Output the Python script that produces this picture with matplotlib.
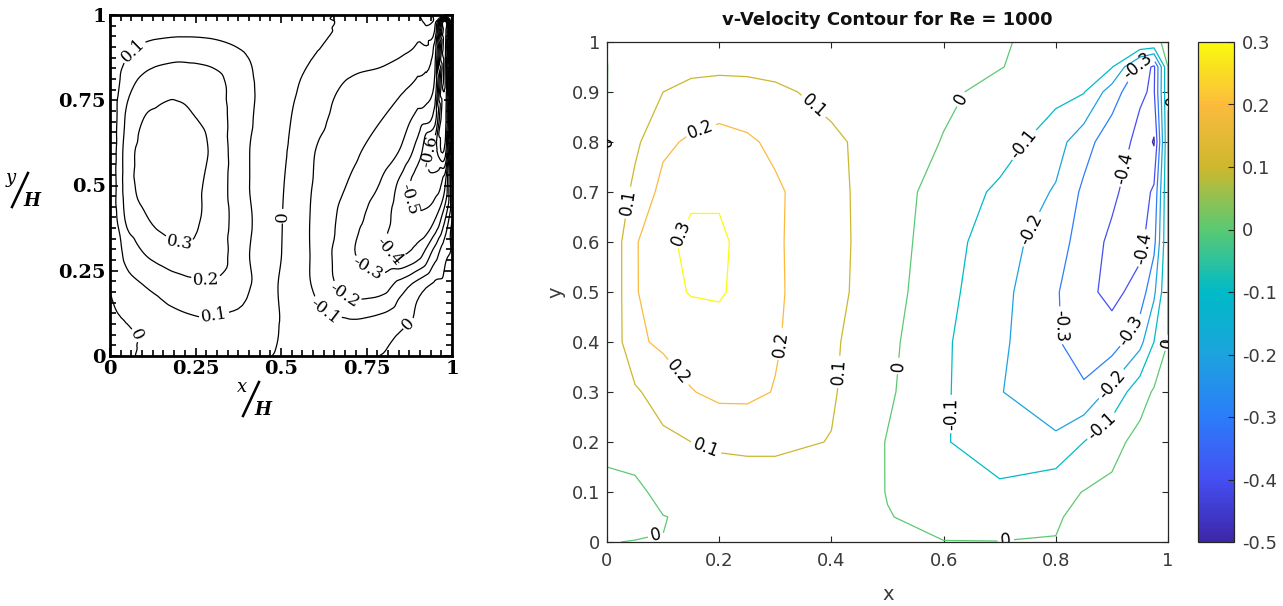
import numpy as np
import matplotlib
matplotlib.use("Agg")
import matplotlib.pyplot as plt
import matplotlib.tri as mtri
from matplotlib.colors import LinearSegmentedColormap, Normalize
from matplotlib.cm import ScalarMappable
from matplotlib.lines import Line2D
from matplotlib.ticker import MultipleLocator, FormatStrFormatter

plt.rcParams["axes.unicode_minus"] = False
plt.rcParams["font.family"] = "DejaVu Sans"

W, H = 1283, 606

# ---------------- benchmark solution (left panel) ----------------
x_ref = [0, 0.05, 0.1, 0.15, 0.2, 0.25, 0.3, 0.4, 0.5, 0.6, 0.7, 0.8, 0.85, 0.9, 0.95, 0.98, 1.0]
y_ref = [0, 0.05, 0.1, 0.2, 0.3, 0.4, 0.5, 0.6, 0.7, 0.8, 0.9, 0.95, 0.98, 1.0]
v_ref = [
    [-0.005, -0.005, 0.005, 0.005, 0.005, 0.005, 0.005, 0.005, -0.005, -0.005, -0.005, 0.002, 0.005, 0.005, 0.005, 0.005, 0.005],
    [-0.005, -0.015, 0.01, 0.025, 0.035, 0.04, 0.04, 0.03, -0.003, -0.035, -0.05, -0.015, 0.01, 0.015, 0.012, 0.008, 0.005],
    [-0.005, 0.002, 0.035, 0.06, 0.075, 0.085, 0.085, 0.07, -0.003, -0.07, -0.09, -0.06, -0.02, 0.01, 0.02, 0.012, 0.005],
    [0.005, 0.06, 0.095, 0.125, 0.15, 0.17, 0.18, 0.11, -0.01, -0.11, -0.24, -0.23, -0.14, -0.04, 0.03, 0.02, 0.005],
    [0.005, 0.13, 0.2, 0.24, 0.27, 0.275, 0.26, 0.11, 0.002, -0.12, -0.28, -0.38, -0.41, -0.35, -0.15, -0.02, 0.005],
    [0.005, 0.22, 0.285, 0.33, 0.345, 0.31, 0.27, 0.12, 0.005, -0.12, -0.25, -0.37, -0.44, -0.47, -0.4, -0.2, -0.005],
    [0.005, 0.25, 0.33, 0.37, 0.38, 0.32, 0.27, 0.11, 0.01, -0.11, -0.21, -0.32, -0.43, -0.55, -0.55, -0.4, -0.005],
    [0.005, 0.25, 0.33, 0.37, 0.38, 0.35, 0.28, 0.11, 0.02, -0.1, -0.17, -0.26, -0.31, -0.45, -0.66, -0.75, -0.005],
    [0.005, 0.22, 0.3, 0.32, 0.32, 0.3, 0.26, 0.12, 0.03, -0.07, -0.14, -0.2, -0.25, -0.33, -0.45, -0.85, -0.005],
    [0.005, 0.16, 0.23, 0.26, 0.27, 0.265, 0.24, 0.12, 0.045, -0.04, -0.11, -0.14, -0.17, -0.22, -0.32, -0.9, -0.005],
    [0.005, 0.08, 0.12, 0.14, 0.15, 0.145, 0.135, 0.09, 0.04, 0.005, -0.03, -0.06, -0.08, -0.12, -0.25, -0.92, -0.005],
    [0.005, 0.045, 0.065, 0.075, 0.08, 0.08, 0.075, 0.055, 0.03, 0.01, -0.01, -0.03, -0.045, -0.065, -0.12, -0.94, -0.005],
    [0.005, 0.02, 0.03, 0.035, 0.035, 0.035, 0.03, 0.02, 0.012, 0.005, -0.003, -0.01, -0.015, -0.025, -0.05, -0.95, -0.005],
    [0.005, 0.005, 0.005, 0.005, 0.005, 0.005, 0.005, 0.005, 0.005, 0.005, -0.005, -0.005, -0.005, -0.005, -0.005, -0.005, -0.005],
]
ref_levels = np.round(np.arange(-9, 4) * 0.1, 1) + 0.0
ref_label_pos = [(0.203, 0.33), (0.278, 0.208), (0.039, 0.922), (0.303, 0.125),
                 (0.502, 0.41), (0.073, 0.06), (0.862, 0.106), (0.614, 0.11),
                 (0.682, 0.174), (0.75, 0.247), (0.83, 0.32), (0.87, 0.46),
                 (0.931, 0.6)]

# ---------------- computed solution, Re = 1000 (right panel) ----------------
x_num = [0, 0.05, 0.1, 0.15, 0.2, 0.25, 0.3, 0.4, 0.5, 0.6, 0.7, 0.8, 0.85, 0.9, 0.95, 0.975, 1.0]
y_num = [0, 0.05, 0.1, 0.2, 0.3, 0.4, 0.5, 0.6, 0.7, 0.8, 0.9, 0.95, 1.0]
v_num = [
    [-0.001] + [0.001] * 16,
    [-0.001, -0.012, -0.002, 0.01, 0.015, 0.018, 0.018, 0.014, 0.002, -0.015, -0.025, -0.003, 0.008, 0.012, 0.01, 0.006, 0.001],
    [-0.001, -0.02, 0.025, 0.035, 0.045, 0.05, 0.05, 0.04, -0.002, -0.05, -0.075, -0.03, 0.003, 0.02, 0.025, 0.015, 0.001],
    [0.001, 0.04, 0.075, 0.1, 0.115, 0.12, 0.12, 0.097, -0.005, -0.09, -0.17, -0.18, -0.1, -0.03, 0.03, 0.03, 0.001],
    [0.001, 0.085, 0.15, 0.195, 0.225, 0.225, 0.195, 0.11, 0.015, -0.085, -0.195, -0.27, -0.285, -0.17, -0.04, 0.01, 0.001],
    [0.001, 0.185, 0.215, 0.25, 0.26, 0.24, 0.21, 0.115, 0.025, -0.085, -0.18, -0.29, -0.345, -0.35, -0.23, -0.1, 0.001],
    [0.001, 0.19, 0.275, 0.305, 0.31, 0.27, 0.215, 0.128, 0.04, -0.07, -0.17, -0.29, -0.37, -0.43, -0.36, -0.22, 0.001],
    [0.001, 0.19, 0.28, 0.32, 0.32, 0.265, 0.213, 0.13, 0.044, -0.054, -0.161, -0.25, -0.35, -0.42, -0.43, -0.33, 0.001],
    [0.001, 0.125, 0.23, 0.285, 0.285, 0.26, 0.215, 0.13, 0.04, -0.035, -0.12, -0.21, -0.32, -0.38, -0.46, -0.38, 0.001],
    [-0.001, 0.08, 0.18, 0.215, 0.235, 0.215, 0.18, 0.12, 0.05, -0.004, -0.05, -0.16, -0.26, -0.36, -0.42, -0.51, 0.001],
    [-0.001, 0.06, 0.1, 0.13, 0.14, 0.135, 0.12, 0.07, 0.035, 0.015, -0.025, -0.07, -0.095, -0.25, -0.39, -0.41, 0.001],
    [-0.001, 0.04, 0.06, 0.075, 0.08, 0.078, 0.07, 0.045, 0.03, 0.015, 0.003, -0.035, -0.06, -0.095, -0.33, -0.42, 0.001],
    [0.001, 0.001, 0.001, 0.001, 0.001, 0.001, 0.001, 0.001, 0.001, 0.001, 0.0003, -0.001, -0.001, -0.001, -0.001, -0.001, 0.001],
]
num_levels = np.round(np.arange(-5, 4) * 0.1, 1) + 0.0
num_label_pos = [(0.374, 0.879), (0.036, 0.679), (0.416, 0.34), (0.176, 0.187),
                 (0.167, 0.825), (0.316, 0.395), (0.12, 0.333), (0.146, 0.61),
                 (0.635, 0.883), (0.519, 0.352), (0.09, 0.0), (0.711, 0.0),
                 (0.0, 0.8), (1.0, 0.398), (1.0, 0.88),
                 (0.749, 0.79), (0.61, 0.256), (0.88, 0.233),
                 (0.77, 0.618), (0.897, 0.318),
                 (0.809, 0.433), (0.931, 0.425), (0.945, 0.955),
                 (0.922, 0.748), (0.958, 0.587)]

# parula-like colour ramp
parula = LinearSegmentedColormap.from_list("parula_like", [
    (0.24, 0.15, 0.66), (0.27, 0.31, 0.95), (0.17, 0.49, 0.98),
    (0.11, 0.64, 0.87), (0.00, 0.73, 0.78), (0.35, 0.79, 0.45),
    (0.80, 0.72, 0.18), (0.99, 0.73, 0.24), (0.98, 0.98, 0.05)], N=256)
vnorm = Normalize(-0.5, 0.3)


def box(x0, y0, w, h):
    # pixel box (top-left origin) -> figure fraction
    return [x0 / W, 1 - (y0 + h) / H, w / W, h / H]


def fpos(x, y):
    return x / W, 1 - y / H


fig = plt.figure(figsize=(W / 100, H / 100), dpi=100)

# ---------------- left: benchmark contours ----------------
ax1 = fig.add_axes(box(110, 15, 342, 341))
Xr, Yr = np.meshgrid(x_ref, y_ref)
vr = np.asarray(v_ref).ravel()
tri = mtri.Triangulation(Xr.ravel(), Yr.ravel())
interp = mtri.CubicTriInterpolator(tri, vr, kind="geom")
tri_f, v_f = mtri.UniformTriRefiner(tri).refine_field(vr, triinterpolator=interp, subdiv=3)
cs1 = ax1.tricontour(tri_f, v_f, levels=ref_levels, colors="k", linewidths=0.9,
                     linestyles="solid")
with plt.rc_context({"font.family": "DejaVu Serif"}):
    ax1.clabel(cs1, fmt="%g", inline=True, inline_spacing=2, fontsize=12,
               manual=ref_label_pos)
ax1.set_xlim(0, 1)
ax1.set_ylim(0, 1)
ax1.xaxis.set_major_locator(MultipleLocator(0.25))
ax1.yaxis.set_major_locator(MultipleLocator(0.25))
ax1.xaxis.set_minor_locator(MultipleLocator(1 / 32))
ax1.yaxis.set_minor_locator(MultipleLocator(1 / 32))
ax1.xaxis.set_major_formatter(FormatStrFormatter("%g"))
ax1.yaxis.set_major_formatter(FormatStrFormatter("%g"))
ax1.tick_params(which="both", direction="in", top=True, right=True, width=1.2)
ax1.tick_params(which="major", length=6, pad=3, labelsize=14)
ax1.tick_params(which="minor", length=4)
for lab in ax1.get_xticklabels() + ax1.get_yticklabels():
    lab.set_fontfamily("DejaVu Serif")
    lab.set_fontweight("bold")
for sp in ax1.spines.values():
    sp.set_linewidth(2.0)


def slash_label(xc, yc, top, bottom):
    # stacked "top / bottom" axis label, slash drawn as a stroke
    fig.text(*fpos(xc - 9, yc - 12), top, family="DejaVu Serif", style="italic",
             fontsize=13, ha="center", va="center")
    x0, y0 = fpos(xc - 8, yc + 17)
    x1, y1 = fpos(xc + 8, yc - 17)
    fig.add_artist(Line2D([x0, x1], [y0, y1], transform=fig.transFigure,
                          color="k", lw=1.8))
    fig.text(*fpos(xc + 12, yc + 11), bottom, family="DejaVu Serif", style="italic",
             fontsize=13, fontweight="bold", ha="center", va="center")


slash_label(20, 190, "y", "H")
slash_label(251, 399, "x", "H")

# ---------------- right: computed contours ----------------
ax2 = fig.add_axes(box(607, 42, 561, 500))
Xn, Yn = np.meshgrid(x_num, y_num)
cs2 = ax2.contour(Xn, Yn, np.asarray(v_num), levels=num_levels, cmap=parula,
                  norm=vnorm, linewidths=0.9)
ax2.clabel(cs2, fmt="%g", inline=True, inline_spacing=3, fontsize=12, colors="k",
           manual=num_label_pos)
ax2.set_xlim(0, 1)
ax2.set_ylim(0, 1)
ax2.set_xticks(np.round(np.arange(0, 6) * 0.2, 1))
ax2.set_yticks(np.round(np.arange(0, 11) * 0.1, 1))
ax2.xaxis.set_major_formatter(FormatStrFormatter("%g"))
ax2.yaxis.set_major_formatter(FormatStrFormatter("%g"))
ax2.tick_params(direction="in", top=True, right=True, length=4, width=0.8,
                colors="#262626", labelcolor="#3a3a3a", labelsize=13)
ax2.tick_params(axis="x", pad=7)
ax2.tick_params(axis="y", pad=5)
for sp in ax2.spines.values():
    sp.set_color("#262626")
    sp.set_linewidth(0.9)

fig.text(*fpos(887, 20), "v-Velocity Contour for Re = 1000", fontsize=13,
         fontweight="bold", ha="center", va="center", color="#111111")
fig.text(*fpos(888, 595), "x", fontsize=14, ha="center", va="center", color="#3a3a3a")
fig.text(*fpos(556, 292), "y", fontsize=14, ha="center", va="center", color="#3a3a3a",
         rotation=90)

cax = fig.add_axes(box(1198, 42, 36, 500))
cb = fig.colorbar(ScalarMappable(norm=vnorm, cmap=parula), cax=cax, ticks=num_levels)
cb.ax.yaxis.set_major_formatter(FormatStrFormatter("%g"))
cb.ax.tick_params(direction="in", length=4, width=0.8, colors="#262626",
                  labelcolor="#3a3a3a", labelsize=13, pad=6)
cb.outline.set_edgecolor("#262626")
cb.outline.set_linewidth(0.9)

fig.savefig("out.png", dpi=100)
